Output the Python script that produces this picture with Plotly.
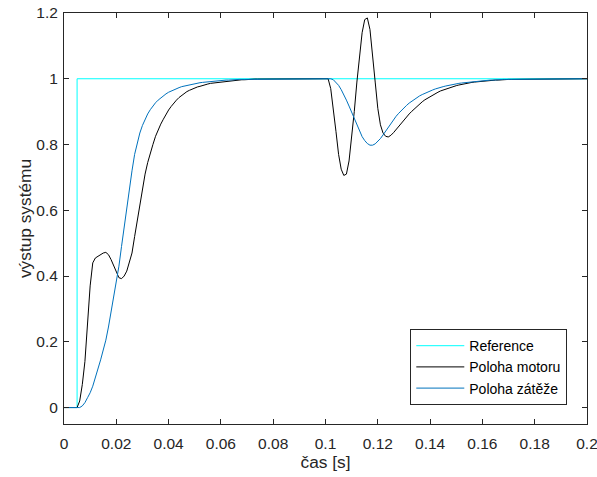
import numpy as np
import plotly.graph_objects as go

dt = 0.001  # sample time [s]

ref_t = [0.0, 0.005, 0.2]
ref_v = [0.0, 1.0, 1.0]

motor = [
    0, 0, 0, 0, 0, 0, 0.02, 0.07, 0.14, 0.26,
    0.37, 0.44, 0.455, 0.46, 0.465, 0.47, 0.472, 0.465, 0.45, 0.43,
    0.41, 0.395, 0.392, 0.40, 0.415, 0.44, 0.47, 0.52, 0.57, 0.62,
    0.665, 0.71, 0.745, 0.775, 0.80, 0.825, 0.845, 0.862, 0.877, 0.893,
    0.905, 0.916, 0.927, 0.935, 0.943, 0.950, 0.956, 0.961, 0.965, 0.969,
    0.972, 0.975, 0.977, 0.980, 0.982, 0.984, 0.986, 0.987, 0.989, 0.990,
    0.991, 0.992, 0.993, 0.994, 0.995, 0.995, 0.996, 0.996, 0.997, 0.997,
    0.998, 0.998, 0.998, 0.999, 0.999, 0.999, 0.999, 1, 1, 1,
    1, 1, 1, 1, 1, 1, 1, 1, 1, 1,
    1, 1, 1, 1, 1, 1, 1, 1, 1, 1,
    1, 1, 0.97, 0.91, 0.84, 0.77, 0.725, 0.706, 0.71, 0.75,
    0.82, 0.90, 0.99, 1.07, 1.14, 1.18, 1.185, 1.15, 1.08, 0.99,
    0.91, 0.86, 0.835, 0.825, 0.823, 0.828, 0.836, 0.846, 0.856, 0.866,
    0.875, 0.884, 0.893, 0.901, 0.909, 0.916, 0.923, 0.930, 0.936, 0.941,
    0.946, 0.951, 0.955, 0.959, 0.963, 0.966, 0.969, 0.972, 0.975, 0.977,
    0.979, 0.981, 0.983, 0.985, 0.986, 0.988, 0.989, 0.990, 0.991, 0.992,
    0.993, 0.994, 0.994, 0.995, 0.995, 0.996, 0.996, 0.997, 0.997, 0.997,
    0.998, 0.998, 0.998, 0.998, 0.999, 0.999, 0.999, 0.999, 1, 1,
    1, 1, 1, 1, 1, 1, 1, 1, 1, 1,
    1, 1, 1, 1, 1, 1, 1, 1, 1, 1,
    1,
]

load = [
    0, 0, 0, 0, 0, 0, 0, 0.005, 0.015, 0.03,
    0.045, 0.065, 0.09, 0.115, 0.145, 0.175, 0.205, 0.245, 0.29, 0.335,
    0.38, 0.43, 0.49, 0.55, 0.61, 0.665, 0.72, 0.77, 0.805, 0.835,
    0.858, 0.877, 0.893, 0.906, 0.917, 0.927, 0.935, 0.942, 0.948, 0.954,
    0.959, 0.963, 0.967, 0.970, 0.973, 0.976, 0.978, 0.980, 0.982, 0.984,
    0.986, 0.987, 0.988, 0.989, 0.990, 0.991, 0.992, 0.993, 0.993, 0.994,
    0.995, 0.995, 0.996, 0.996, 0.997, 0.997, 0.997, 0.998, 0.998, 0.998,
    0.999, 0.999, 0.999, 0.999, 1, 1, 1, 1, 1, 1,
    1, 1, 1, 1, 1, 1, 1, 1, 1, 1,
    1, 1, 1, 1, 1, 1, 1, 1, 1, 1,
    1, 1, 1, 0.997, 0.99, 0.98, 0.967, 0.952, 0.935, 0.917,
    0.898, 0.878, 0.858, 0.84, 0.824, 0.812, 0.803, 0.798, 0.798, 0.802,
    0.809, 0.818, 0.829, 0.841, 0.853, 0.865, 0.876, 0.886, 0.895, 0.904,
    0.912, 0.919, 0.926, 0.932, 0.938, 0.943, 0.948, 0.952, 0.956, 0.960,
    0.963, 0.966, 0.969, 0.972, 0.974, 0.976, 0.978, 0.980, 0.982, 0.983,
    0.985, 0.986, 0.987, 0.988, 0.989, 0.990, 0.991, 0.992, 0.993, 0.993,
    0.994, 0.995, 0.995, 0.996, 0.996, 0.997, 0.997, 0.997, 0.998, 0.998,
    0.998, 0.999, 0.999, 0.999, 0.999, 1, 1, 1, 1, 1,
    1, 1, 1, 1, 1, 1, 1, 1, 1, 1,
    1, 1, 1, 1, 1, 1, 1, 1, 1, 1,
    1,
]

x_ticks = [0, 0.02, 0.04, 0.06, 0.08, 0.1, 0.12, 0.14, 0.16, 0.18, 0.2]
x_ticktext = ["0", "0.02", "0.04", "0.06", "0.08", "0.1", "0.12", "0.14", "0.16", "0.18", "0.2"]
y_ticks = [0, 0.2, 0.4, 0.6, 0.8, 1.0, 1.2]
y_ticktext = ["0", "0.2", "0.4", "0.6", "0.8", "1", "1.2"]

t = np.arange(len(motor)) * dt

fig = go.Figure()
fig.add_trace(go.Scatter(x=ref_t, y=ref_v, mode="lines", name="Reference",
                         line=dict(color="#00FFFF", width=1, shape="hv")))
fig.add_trace(go.Scatter(x=t, y=motor, mode="lines", name="Poloha motoru",
                         line=dict(color="#000000", width=1)))
fig.add_trace(go.Scatter(x=t, y=load, mode="lines", name="Poloha zátěže",
                         line=dict(color="#0072BD", width=1)))

font = "Liberation Sans, Arial, sans-serif"
axis_common = dict(showgrid=False, zeroline=False, showline=True, linecolor="#262626",
                   linewidth=1, mirror="ticks", ticks="inside", ticklen=5,
                   tickcolor="#262626", automargin=False, ticklabeloverflow="allow",
                   tickfont=dict(family=font, size=15.5, color="#262626"))

fig.update_layout(
    width=597, height=477,
    margin=dict(l=64, r=10, t=13, b=53),
    paper_bgcolor="white", plot_bgcolor="white",
    font=dict(family=font, color="#262626"),
    showlegend=True,
    legend=dict(x=0.9623, y=0.046, xanchor="right", yanchor="bottom",
                bgcolor="white", bordercolor="#262626", borderwidth=1,
                font=dict(family=font, size=14, color="#000000"),
                tracegroupgap=0, itemwidth=48),
    xaxis=dict(range=[0, 0.2], tickvals=x_ticks, ticktext=x_ticktext,
               ticklabelstandoff=5,
               title=dict(text="čas [s]", font=dict(family=font, size=17.3, color="#262626"), standoff=3),
               **axis_common),
    yaxis=dict(range=[-0.05, 1.2], tickvals=y_ticks, ticktext=y_ticktext,
               ticklabelstandoff=2,
               title=dict(text="výstup systému", font=dict(family=font, size=17.3, color="#262626"), standoff=0),
               **axis_common),
)

fig.write_html("out.html")
